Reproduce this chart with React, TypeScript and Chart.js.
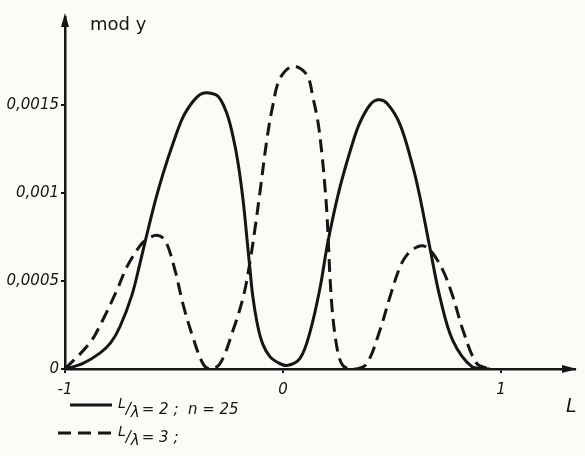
import { useEffect, useRef } from "react";
import { Chart, registerables } from "chart.js";

Chart.register(...registerables);

// Amplitude profile |y| along the normalised length L, for L/λ = 2 (n = 25)
const posL2 = [
  -1, -0.92, -0.84, -0.79, -0.748, -0.693, -0.656, -0.633, -0.587, -0.55, -0.505,
  -0.459, -0.413, -0.38, -0.349, -0.298, -0.257, -0.229, -0.206, -0.183, -0.165,
  -0.15, -0.138, -0.115, -0.092, -0.06, -0.028, 0.018, 0.078, 0.124, 0.17, 0.206,
  0.261, 0.321, 0.353, 0.399, 0.436, 0.477, 0.537, 0.596, 0.628, 0.674, 0.72,
  0.78, 0.87, 0.95,
];
const modY2 = [
  0, 0.00003, 0.00009, 0.00015, 0.00024, 0.00042, 0.0006, 0.00072, 0.00095,
  0.00111, 0.00128, 0.00143, 0.00152, 0.00156, 0.00157, 0.00155, 0.00145, 0.00132,
  0.00117, 0.00096, 0.00074, 0.00055, 0.00041, 0.00024, 0.00014, 0.00007, 0.00004,
  0.00002, 0.00006, 0.00021, 0.00046, 0.00072, 0.00103, 0.00129, 0.0014, 0.0015,
  0.00153, 0.00151, 0.00139, 0.00115, 0.00098, 0.00069, 0.00041, 0.00016, 0.00001,
  0,
];

// Amplitude profile |y| for L/λ = 3
const posL3 = [
  -1, -0.885, -0.826, -0.761, -0.716, -0.656, -0.62, -0.578, -0.54, -0.495,
  -0.459, -0.413, -0.367, -0.335, -0.289, -0.229, -0.18, -0.151, -0.128, -0.106,
  -0.073, -0.046, -0.014, 0.046, 0.11, 0.138, 0.161, 0.179, 0.193, 0.202, 0.209,
  0.216, 0.225, 0.238, 0.255, 0.275, 0.31, 0.339, 0.385, 0.445, 0.491, 0.537,
  0.57, 0.61, 0.64, 0.674, 0.734, 0.78, 0.826, 0.89, 0.95,
];
const modY3 = [
  0, 0.00015, 0.00028, 0.00045, 0.00058, 0.0007, 0.00074, 0.00076, 0.00073,
  0.00056, 0.00037, 0.00018, 0.00003, 0, 0.00003, 0.00022, 0.00042, 0.00061,
  0.0008, 0.001, 0.00131, 0.0015, 0.00165, 0.00172, 0.00167, 0.00154, 0.0014,
  0.00122, 0.00103, 0.00088, 0.0007, 0.00052, 0.00035, 0.0002, 0.00008, 0.00002,
  0, 0, 0.00003, 0.00022, 0.00041, 0.00058, 0.00065, 0.00069, 0.0007, 0.00068,
  0.00056, 0.00041, 0.00022, 0.00003, 0,
];

const xTicks = [-1, 0, 1];
const xTickLabels = ["-1", "0", "1"];
const yTicks = [0, 0.0005, 0.001, 0.0015];
const yTickLabels = ["0", "0,0005", "0,001", "0,0015"];
const seriesLabels = ["L/λ = 2 ;  n = 25", "L/λ = 3 ;"];
const yAxisTitle = "mod y";
const xAxisTitle = "L";

const INK = "#151515";
const PAPER = "#fbfbf8";
const FAMILY = "'DejaVu Sans', 'Liberation Sans', sans-serif";

const toPoints = (xs: number[], ys: number[]) => xs.map((x, i) => ({ x, y: ys[i] }));

// Paper background
const paperPlugin = {
  id: "paper",
  beforeDraw(chart: any) {
    const { ctx, width, height } = chart;
    ctx.save();
    ctx.fillStyle = PAPER;
    ctx.fillRect(0, 0, width, height);
    ctx.restore();
  },
};

// Arrow heads on both axes plus the axis names
const axisArrowsPlugin = {
  id: "axisArrows",
  afterDraw(chart: any) {
    const { ctx, chartArea: a } = chart;
    ctx.save();
    ctx.fillStyle = INK;
    ctx.beginPath();
    ctx.moveTo(a.left, a.top - 4);
    ctx.lineTo(a.left - 4, a.top + 10);
    ctx.lineTo(a.left + 4, a.top + 10);
    ctx.closePath();
    ctx.fill();
    ctx.beginPath();
    ctx.moveTo(a.right + 2, a.bottom);
    ctx.lineTo(a.right - 13, a.bottom - 4);
    ctx.lineTo(a.right - 13, a.bottom + 4);
    ctx.closePath();
    ctx.fill();

    ctx.font = `18px ${FAMILY}`;
    ctx.textAlign = "left";
    ctx.textBaseline = "alphabetic";
    ctx.fillText(yAxisTitle, a.left + 25, a.top + 13);
    ctx.font = `italic 19px ${FAMILY}`;
    ctx.fillText(xAxisTitle, a.right - 9, a.bottom + 43);
    ctx.restore();
  },
};

// Key under the plot: line sample followed by "L/λ = …"
const keyPlugin = {
  id: "curveKey",
  afterDraw(chart: any) {
    const { ctx, chartArea: a } = chart;
    ctx.save();
    chart.data.datasets.forEach((ds: any, i: number) => {
      const rowY = a.bottom + 36 + i * 28;
      ctx.strokeStyle = ds.borderColor;
      ctx.lineWidth = ds.borderWidth;
      ctx.setLineDash(ds.borderDash || []);
      ctx.beginPath();
      ctx.moveTo(a.left + (ds.borderDash ? -7 : 5), rowY);
      ctx.lineTo(a.left + 47, rowY);
      ctx.stroke();
      ctx.setLineDash([]);

      const label: string = ds.label;
      const slash = label.indexOf("/");
      let x = a.left + 53;
      const base = rowY + 9;
      ctx.fillStyle = INK;
      ctx.textAlign = "left";
      ctx.textBaseline = "alphabetic";
      if (slash > 0) {
        ctx.font = `italic 14px ${FAMILY}`;
        const top = label.slice(0, slash);
        ctx.fillText(top, x, base - 6);
        x += ctx.measureText(top).width;
        ctx.font = `italic 15px ${FAMILY}`;
        ctx.fillText("/", x, base);
        x += ctx.measureText("/").width;
        const low = label.charAt(slash + 1);
        ctx.fillText(low, x, base + 3);
        x += ctx.measureText(low).width + 2;
        ctx.fillText(label.slice(slash + 2).trim(), x, base);
      } else {
        ctx.font = `italic 15px ${FAMILY}`;
        ctx.fillText(label, x, base);
      }
    });
    ctx.restore();
  },
};

export default function App() {
  const canvasRef = useRef<HTMLCanvasElement>(null);

  useEffect(() => {
    const canvas = canvasRef.current;
    if (!canvas) return;
    const tickFont = { family: FAMILY, size: 15, style: "italic" as const };
    const chart = new Chart(canvas, {
      type: "line",
      data: {
        datasets: [
          {
            label: seriesLabels[0],
            data: toPoints(posL2, modY2),
            borderColor: INK,
            borderWidth: 3,
            fill: false,
            pointRadius: 0,
            tension: 0.35,
          },
          {
            label: seriesLabels[1],
            data: toPoints(posL3, modY3),
            borderColor: INK,
            borderWidth: 3,
            borderDash: [13, 7],
            fill: false,
            pointRadius: 0,
            tension: 0.35,
          },
        ],
      },
      options: {
        animation: false,
        responsive: false,
        layout: { padding: { top: 17, right: 10, left: 0, bottom: 0 } },
        plugins: {
          legend: { display: false },
          tooltip: { enabled: false },
        },
        scales: {
          x: {
            type: "linear",
            min: -1,
            max: 1.34,
            afterBuildTicks: (s: any) => {
              s.ticks = xTicks.map((value) => ({ value }));
            },
            afterFit: (s: any) => {
              s.height = 87;
            },
            ticks: {
              autoSkip: false,
              maxRotation: 0,
              padding: 8,
              color: INK,
              font: tickFont,
              callback: (v: any) => xTickLabels[xTicks.indexOf(Number(v))] ?? "",
            },
            grid: {
              display: true,
              drawOnChartArea: false,
              drawTicks: true,
              tickLength: 4,
              color: INK,
              lineWidth: 2,
            },
            border: { display: true, color: INK, width: 2.5 },
          },
          y: {
            type: "linear",
            min: 0,
            max: 0.002,
            afterBuildTicks: (s: any) => {
              s.ticks = yTicks.map((value) => ({ value }));
            },
            afterFit: (s: any) => {
              s.width = 65;
            },
            ticks: {
              autoSkip: false,
              padding: 2,
              color: INK,
              font: tickFont,
              callback: (v: any) => yTickLabels[yTicks.indexOf(Number(v))] ?? "",
            },
            grid: {
              display: true,
              drawOnChartArea: false,
              drawTicks: true,
              tickLength: 4,
              color: INK,
              lineWidth: 2,
            },
            border: { display: true, color: INK, width: 2.5 },
          },
        },
      },
      plugins: [paperPlugin, axisArrowsPlugin, keyPlugin],
    });
    return () => chart.destroy();
  }, []);

  return (
    <div
      style={{
        position: "fixed",
        left: 0,
        top: 0,
        width: 585,
        height: 456,
        background: PAPER,
      }}
    >
      <canvas
        ref={canvasRef}
        width={585}
        height={456}
        style={{ display: "block", width: 585, height: 456 }}
      />
    </div>
  );
}
